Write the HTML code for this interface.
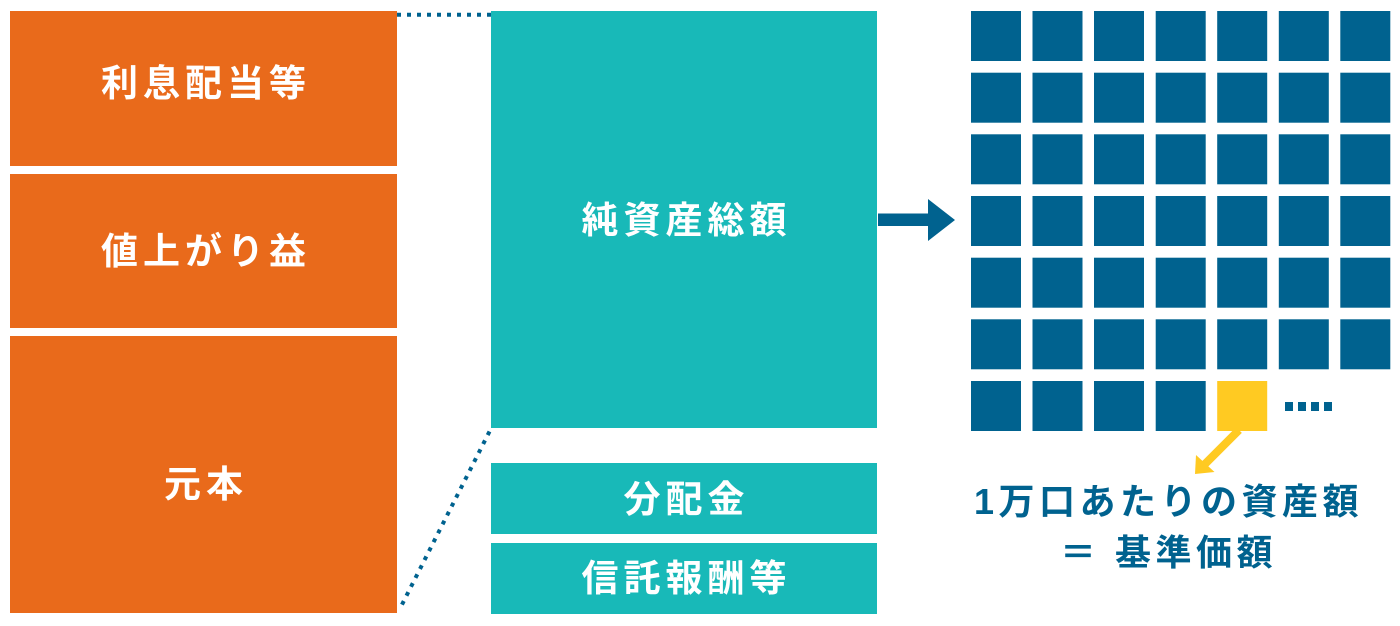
<!DOCTYPE html>
<html><head><meta charset="utf-8">
<style>
html,body{margin:0;padding:0;background:#fff;}
body{width:1400px;height:626px;overflow:hidden;position:relative;}
svg{position:absolute;left:0;top:0;}
.t{position:absolute;color:#fff;font-family:"Liberation Sans","Noto Sans CJK JP",sans-serif;font-weight:bold;font-size:37px;line-height:1;white-space:nowrap;text-align:center;letter-spacing:5px;}
.b{position:absolute;font-family:"Liberation Sans","Noto Sans CJK JP",sans-serif;font-weight:bold;font-size:36px;line-height:1;white-space:nowrap;text-align:center;color:#00628F;letter-spacing:4.5px;}
</style></head>
<body>
<svg width="1400" height="626" viewBox="0 0 1400 626">
  <rect x="10" y="11" width="387" height="155" fill="#E96A1B"/>
  <rect x="10" y="174" width="387" height="154" fill="#E96A1B"/>
  <rect x="10" y="336" width="387" height="277" fill="#E96A1B"/>
  <rect x="491" y="11" width="386" height="417" fill="#18B9B8"/>
  <rect x="491" y="463" width="386" height="71" fill="#18B9B8"/>
  <rect x="491" y="543" width="386" height="71" fill="#18B9B8"/>
  <line x1="397" y1="14.7" x2="491" y2="14.7" stroke="#00628F" stroke-width="4" stroke-dasharray="4 6"/>
  <line x1="489.5" y1="431.5" x2="399.5" y2="609.5" stroke="#00628F" stroke-width="4" stroke-dasharray="4 6"/>
  <rect x="878" y="213.5" width="52" height="12.5" fill="#00628F"/>
  <polygon points="928,199 955,220 928,241" fill="#00628F"/>
  <g fill="#00628F">
    <rect x="971" y="11" width="50" height="50"/><rect x="1032.5" y="11" width="50" height="50"/><rect x="1094" y="11" width="50" height="50"/><rect x="1155.7" y="11" width="50" height="50"/><rect x="1217.2" y="11" width="50" height="50"/><rect x="1278.8" y="11" width="50" height="50"/><rect x="1340.3" y="11" width="50" height="50"/>
    <rect x="971" y="72.7" width="50" height="50"/><rect x="1032.5" y="72.7" width="50" height="50"/><rect x="1094" y="72.7" width="50" height="50"/><rect x="1155.7" y="72.7" width="50" height="50"/><rect x="1217.2" y="72.7" width="50" height="50"/><rect x="1278.8" y="72.7" width="50" height="50"/><rect x="1340.3" y="72.7" width="50" height="50"/>
    <rect x="971" y="134.3" width="50" height="50"/><rect x="1032.5" y="134.3" width="50" height="50"/><rect x="1094" y="134.3" width="50" height="50"/><rect x="1155.7" y="134.3" width="50" height="50"/><rect x="1217.2" y="134.3" width="50" height="50"/><rect x="1278.8" y="134.3" width="50" height="50"/><rect x="1340.3" y="134.3" width="50" height="50"/>
    <rect x="971" y="196" width="50" height="50"/><rect x="1032.5" y="196" width="50" height="50"/><rect x="1094" y="196" width="50" height="50"/><rect x="1155.7" y="196" width="50" height="50"/><rect x="1217.2" y="196" width="50" height="50"/><rect x="1278.8" y="196" width="50" height="50"/><rect x="1340.3" y="196" width="50" height="50"/>
    <rect x="971" y="257.7" width="50" height="50"/><rect x="1032.5" y="257.7" width="50" height="50"/><rect x="1094" y="257.7" width="50" height="50"/><rect x="1155.7" y="257.7" width="50" height="50"/><rect x="1217.2" y="257.7" width="50" height="50"/><rect x="1278.8" y="257.7" width="50" height="50"/><rect x="1340.3" y="257.7" width="50" height="50"/>
    <rect x="971" y="319.3" width="50" height="50"/><rect x="1032.5" y="319.3" width="50" height="50"/><rect x="1094" y="319.3" width="50" height="50"/><rect x="1155.7" y="319.3" width="50" height="50"/><rect x="1217.2" y="319.3" width="50" height="50"/><rect x="1278.8" y="319.3" width="50" height="50"/><rect x="1340.3" y="319.3" width="50" height="50"/>
    <rect x="971" y="381" width="50" height="50"/><rect x="1032.5" y="381" width="50" height="50"/><rect x="1094" y="381" width="50" height="50"/><rect x="1155.7" y="381" width="50" height="50"/>
    <rect x="1285" y="402" width="8" height="9"/><rect x="1298" y="402" width="8" height="9"/><rect x="1311" y="402" width="8" height="9"/><rect x="1324" y="402" width="8" height="9"/>
  </g>
  <rect x="1217.2" y="381" width="50" height="50" fill="#FFCA22"/>
  <line x1="1239" y1="430" x2="1204" y2="465" stroke="#FFCA22" stroke-width="8"/>
  <polygon points="1195,474 1196,455 1214.5,472" fill="#FFCA22"/>
</svg>

<div class="t" style="left:10px;width:392px;top:65px;">利息配当等</div>
<div class="t" style="left:10px;width:392px;top:233px;">値上がり益</div>
<div class="t" style="left:10px;width:392px;top:466px;">元本</div>
<div class="t" style="left:491px;width:391px;top:202px;">純資産総額</div>
<div class="t" style="left:491px;width:391px;top:481px;">分配金</div>
<div class="t" style="left:491px;width:391px;top:560px;">信託報酬等</div>

<div class="b" style="left:960px;width:417px;top:484px;">1万口あたりの資産額</div>
<div class="b" style="left:960px;width:417px;top:535px;">＝ 基準価額</div>
</body></html>
